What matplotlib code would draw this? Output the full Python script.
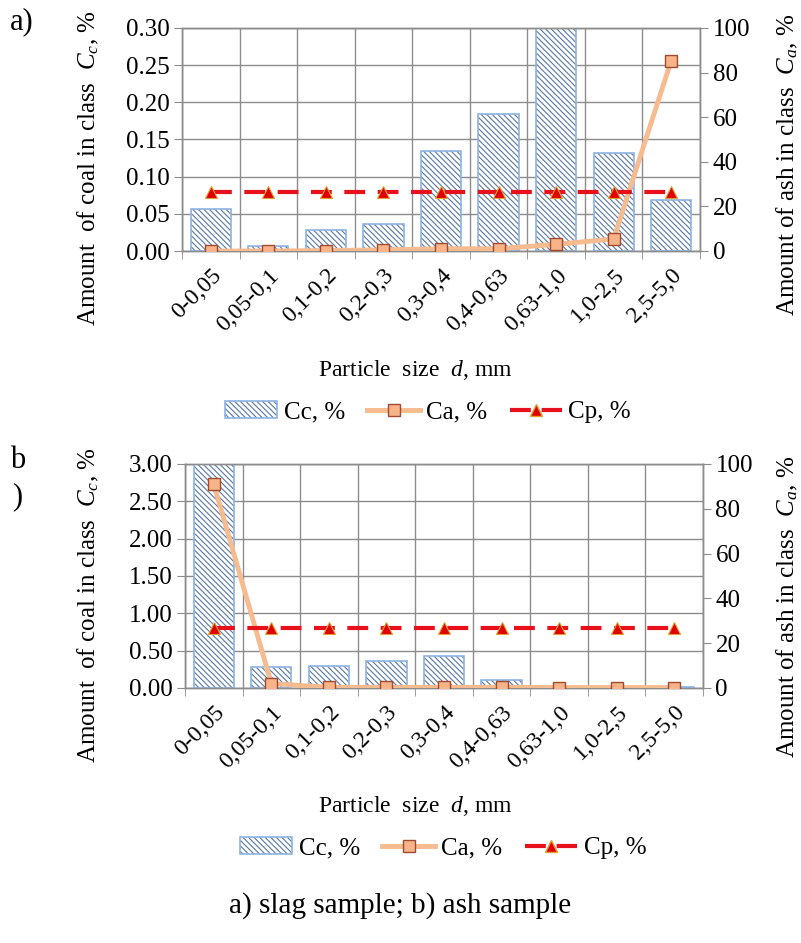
import matplotlib
matplotlib.use("Agg")
import matplotlib.pyplot as plt
from matplotlib.patches import Patch
from matplotlib.lines import Line2D
from matplotlib.ticker import MultipleLocator, FormatStrFormatter
import numpy as np

plt.rcParams['font.family'] = ['Liberation Serif', 'DejaVu Serif']
plt.rcParams['mathtext.fontset'] = 'custom'
plt.rcParams['mathtext.rm'] = 'Liberation Serif'
plt.rcParams['mathtext.it'] = 'Liberation Serif:italic'
plt.rcParams['hatch.linewidth'] = 0.8

# particle size classes
classes = ["0-0,05", "0,05-0,1", "0,1-0,2", "0,2-0,3", "0,3-0,4",
           "0,4-0,63", "0,63-1,0", "1,0-2,5", "2,5-5,0"]

# a) slag sample
cc_slag = [0.057, 0.007, 0.028, 0.036, 0.134, 0.184, 0.30, 0.132, 0.068]
ca_slag = [0.0, 0.0, 0.2, 0.5, 1.0, 1.0, 3.0, 5.4, 85.4]
cp_slag = [26.5] * 9

# b) ash sample
cc_ash = [3.0, 0.28, 0.30, 0.36, 0.43, 0.11, 0.0, 0.0, 0.01]
ca_ash = [91.0, 2.0, 0.3, 0.3, 0.3, 0.3, 0.2, 0.2, 0.2]
cp_ash = [26.8] * 9

HATCH = "\\" * 6
HATCH_COL = "#5878a4"
EDGE_COL = "#8db3e2"
CA_COL = "#f6bb8f"
CP_COL = "#e8101a"
GRID_COL = "#8c8c8c"

fig = plt.figure(figsize=(8.01, 9.43), dpi=100)


def panel(rect, cc, ca, cp, ymax, ystep):
    ax = fig.add_axes(rect)
    x = np.arange(len(classes))
    ax.bar(x, cc, width=0.7, color="white", edgecolor=HATCH_COL,
           linewidth=0, hatch=HATCH, zorder=2)
    ax.bar(x, cc, width=0.7, color="none", edgecolor=EDGE_COL,
           linewidth=1.2, zorder=3)
    ax.set_xlim(-0.5, len(classes) - 0.5)
    ax.set_ylim(0, ymax)
    ax.yaxis.set_major_locator(MultipleLocator(ystep))
    ax.yaxis.set_major_formatter(FormatStrFormatter("%.2f"))
    ax.set_xticks(x)
    ax.set_xticklabels(classes, rotation=45, ha="right",
                       rotation_mode="anchor", fontsize=17)
    ax.set_xticks(np.arange(len(classes) + 1) - 0.5, minor=True)
    ax.tick_params(axis="x", which="major", length=0, pad=10)
    ax.tick_params(axis="x", which="minor", length=6, color=GRID_COL)
    ax.tick_params(axis="y", length=6, color=GRID_COL, labelsize=18, pad=3)
    ax.grid(True, axis="y", which="major", color=GRID_COL, lw=1)
    ax.grid(True, axis="x", which="minor", color=GRID_COL, lw=1)
    ax.set_axisbelow(True)
    for s in ax.spines.values():
        s.set_color(GRID_COL)
        s.set_linewidth(1)

    ax2 = ax.twinx()
    ax2.plot(x, ca, color=CA_COL, lw=3.5, marker="s", markersize=9,
             markerfacecolor="#f9b389", markeredgecolor="#a04a30",
             markeredgewidth=1, zorder=4)
    ax2.plot(x, cp, color=CP_COL, lw=3, dashes=(5, 3), marker="^",
             markersize=8, markerfacecolor="#e00000",
             markeredgecolor="#e0a030", markeredgewidth=0.8, zorder=5)
    ax2.set_ylim(0, 100)
    ax2.yaxis.set_major_locator(MultipleLocator(20))
    ax2.tick_params(axis="y", length=6, color=GRID_COL, labelsize=18, pad=3)
    for s in ax2.spines.values():
        s.set_color(GRID_COL)
        s.set_linewidth(1)
    return ax, ax2


def legend(xc, y):
    h_bar = (Patch(facecolor="white", edgecolor=HATCH_COL, hatch=HATCH, lw=0),
             Patch(facecolor="none", edgecolor=EDGE_COL, lw=1.2))
    h_ca = Line2D([], [], color=CA_COL, lw=3.5, marker="s", markersize=9,
                  markerfacecolor="#f9b389", markeredgecolor="#a04a30")
    h_cp = Line2D([], [], color=CP_COL, lw=3, dashes=(5, 2.6), marker="^",
                  markersize=8, markerfacecolor="#e00000",
                  markeredgecolor="#e0a030")
    fig.legend([h_bar, h_ca, h_cp], ["Cc, %", "Ca, %", "Cp, %"],
               loc="center", bbox_to_anchor=(xc, y), ncol=3,
               frameon=False, fontsize=18, handlelength=2.1,
               handletextpad=0.25, columnspacing=0.9)


W, H = 801, 943
panel([182 / W, 1 - 251 / H, 518 / W, 223 / H], cc_slag, ca_slag, cp_slag, 0.30, 0.05)
panel([185 / W, 1 - 688 / H, 518 / W, 224 / H], cc_ash, ca_ash, cp_ash, 3.0, 0.5)

ylab_l = r"Amount  of coal in class  $C_c$, %"
ylab_r = r"Amount of ash in class  $C_a$, %"
fig.text(88 / W, 1 - 168 / H, ylab_l, rotation=90, ha="center", va="center", fontsize=18)
fig.text(787 / W, 1 - 165 / H, ylab_r, rotation=90, ha="center", va="center", fontsize=18)
fig.text(88 / W, 1 - 605 / H, ylab_l, rotation=90, ha="center", va="center", fontsize=18)
fig.text(787 / W, 1 - 607 / H, ylab_r, rotation=90, ha="center", va="center", fontsize=18)

fig.text(415 / W, 1 - 370 / H, r"Particle  size  $d$, mm", ha="center", va="center", fontsize=17)
fig.text(415 / W, 1 - 806 / H, r"Particle  size  $d$, mm", ha="center", va="center", fontsize=17)

legend(428 / W, 1 - 412 / H)
legend(443 / W, 1 - 848 / H)

fig.text(10 / W, 1 - 22 / H, "a)", ha="left", va="center", fontsize=22)
fig.text(10 / W, 1 - 460 / H, "b", ha="left", va="center", fontsize=22)
fig.text(12 / W, 1 - 497 / H, ")", ha="left", va="center", fontsize=22)

fig.text(400 / W, 1 - 906 / H, "a) slag sample; b) ash sample", ha="center",
         va="center", fontsize=21)

fig.savefig("out.png", dpi=100)
